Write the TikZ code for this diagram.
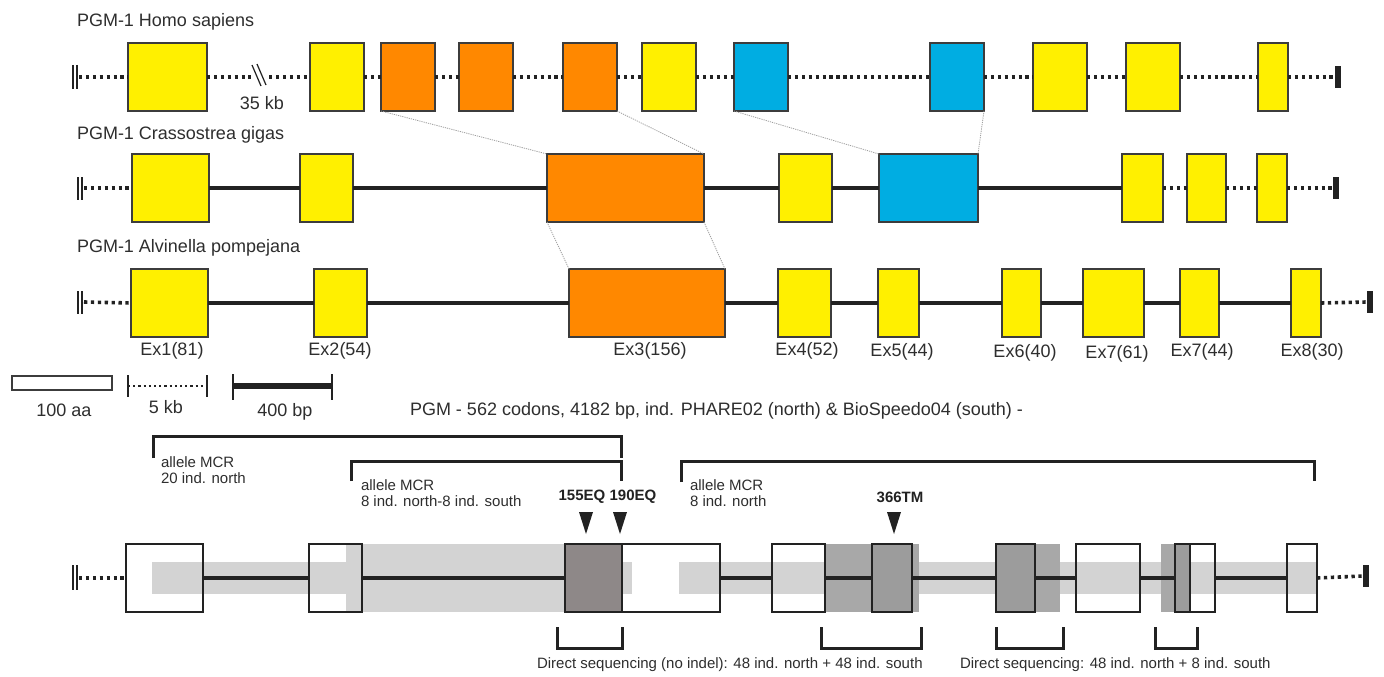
\documentclass[tikz,border=0pt]{standalone}
\usepackage{fontspec}
\setmainfont{Liberation Sans}
\definecolor{yelc}{HTML}{FFF000}
\definecolor{orgc}{HTML}{FF8800}
\definecolor{bluc}{HTML}{00ADE2}
\definecolor{boxc}{HTML}{3C3C3C}
\definecolor{linec}{HTML}{222222}
\definecolor{txtc}{HTML}{2E2E2E}
\definecolor{bandc}{HTML}{D3D3D3}
\definecolor{tallc}{HTML}{A8A8A8}
\definecolor{gboxc}{HTML}{9C9C9C}
\definecolor{dboxc}{HTML}{8E8888}
\newcommand\mkbox[6]{% name, style, x1, x2, y1, y2
  \node[#2, minimum width={(#4-#3)*1pt}, minimum height={(#6-#5)*1pt}] (#1) at ({(#3+#4)/2},{(#5+#6)/2}) {};}
\tikzset{
  every node/.style={inner sep=0pt, outer sep=0pt},
  exon/.style={draw=boxc, line width=1.7pt},
  yel/.style={exon, fill=yelc},
  org/.style={exon, fill=orgc},
  blu/.style={exon, fill=bluc},
  wfill/.style={fill=white},
  gfill/.style={fill=gboxc, draw=linec, line width=1.7pt},
  dfill/.style={fill=dboxc, draw=linec, line width=1.7pt},
  bandfill/.style={fill=bandc},
  tallfill/.style={fill=tallc},
  endbar/.style={fill=linec, minimum width=6.5pt, minimum height=22pt},
  intron/.style={draw=linec, line width=3.4pt},
  dotl/.style={draw=linec, line width=3.6pt, dash pattern=on 3.3pt off 3.6pt},
  link/.style={draw=gray!75, line width=0.8pt, dash pattern=on 1.2pt off 1pt},
  bar/.style={draw=linec, line width=1.2pt},
  bracket/.style={draw=linec, line width=3pt},
  outline/.style={draw=linec, line width=1.7pt},
  txt/.style={text=txtc, font=\fontsize{18}{20}\selectfont},
  stxt/.style={text=txtc, font=\fontsize{15}{16.5}\selectfont, align=left},
  btxt/.style={text=linec, font=\bfseries\fontsize{15}{16}\selectfont},
}
\begin{document}
\begin{tikzpicture}[x=1pt,y=-1pt]
\useasboundingbox[fill=white] (0,0) rectangle (1384,677);

% ---------- titles ----------
\node[txt, anchor=west] (t1) at (77,22) {PGM-1 Homo sapiens};
\node[txt, anchor=west] (t2) at (77,135) {PGM-1 Crassostrea gigas};
\node[txt, anchor=west] (t3) at (77,248) {PGM-1 Alvinella pompejana};

% ---------- row 1 : Homo sapiens ----------
\mkbox{h1}{yel}{128}{207}{43}{111}
\mkbox{h2}{yel}{310}{364}{43}{111}
\mkbox{h3}{org}{381}{435}{43}{111}
\mkbox{h4}{org}{459}{513}{43}{111}
\mkbox{h5}{org}{563}{617}{43}{111}
\mkbox{h6}{yel}{642}{696}{43}{111}
\mkbox{h7}{blu}{734}{788}{43}{111}
\mkbox{h8}{blu}{930}{984}{43}{111}
\mkbox{h9}{yel}{1033}{1087}{43}{111}
\mkbox{h10}{yel}{1126}{1180}{43}{111}
\mkbox{h11}{yel}{1258}{1288}{43}{111}
\node[endbar] (e1) at (1338,77) {};
\coordinate (l1) at (79,77);
\draw[bar] (73,65) -- (73,89) (77,65) -- (77,89);
\draw[dotl] (l1) -- (h1.west);
\draw[dotl] (h1.east) -- (h2.west);
\draw[dotl] (h2.east) -- (h3.west);
\draw[dotl] (h3.east) -- (h4.west);
\draw[dotl] (h4.east) -- (h5.west);
\draw[dotl] (h5.east) -- (h6.west);
\draw[dotl] (h6.east) -- (h7.west);
\draw[dotl] (h7.east) -- (h8.west);
\draw[dotl] (h8.east) -- (h9.west);
\draw[dotl] (h9.east) -- (h10.west);
\draw[dotl] (h10.east) -- (h11.west);
\draw[dotl] (h11.east) -- (e1.west);
\fill[white] (251,71) rectangle (268,83);
\draw[linec, line width=1.2pt] (252,65) -- (261,86) (257,64) -- (266,85);
\node[txt] (kb35) at (262,103) {35 kb};

% ---------- row 2 : Crassostrea gigas ----------
\mkbox{c1}{yel}{132}{209}{154}{222}
\mkbox{c2}{yel}{300}{353}{154}{222}
\mkbox{c3}{org}{547}{704}{154}{222}
\mkbox{c4}{yel}{779}{832}{154}{222}
\mkbox{c5}{blu}{879}{978}{154}{222}
\mkbox{c6}{yel}{1122}{1163}{154}{222}
\mkbox{c7}{yel}{1187}{1226}{154}{222}
\mkbox{c8}{yel}{1257}{1287}{154}{222}
\node[endbar] (e2) at (1336,188) {};
\coordinate (l2) at (84,188);
\draw[bar] (78,177) -- (78,200) (82,177) -- (82,200);
\draw[dotl] (l2) -- (c1.west);
\draw[intron] (c1.east) -- (c2.west);
\draw[intron] (c2.east) -- (c3.west);
\draw[intron] (c3.east) -- (c4.west);
\draw[intron] (c4.east) -- (c5.west);
\draw[intron] (c5.east) -- (c6.west);
\draw[dotl] (c6.east) -- (c7.west);
\draw[dotl] (c7.east) -- (c8.west);
\draw[dotl] (c8.east) -- (e2.west);

% ---------- row 3 : Alvinella pompejana ----------
\mkbox{a1}{yel}{131}{208}{269}{337}
\mkbox{a2}{yel}{314}{367}{269}{337}
\mkbox{a3}{org}{569}{725}{269}{337}
\mkbox{a4}{yel}{778}{831}{269}{337}
\mkbox{a5}{yel}{878}{919}{269}{337}
\mkbox{a6}{yel}{1002}{1041}{269}{337}
\mkbox{a7}{yel}{1083}{1144}{269}{337}
\mkbox{a8}{yel}{1180}{1219}{269}{337}
\mkbox{a9}{yel}{1291}{1321}{269}{337}
\node[endbar] (e3) at (1370,302) {};
\coordinate (l3) at (84,302);
\draw[bar] (78,291) -- (78,314) (82,291) -- (82,314);
\draw[dotl] (l3) -- (a1.west);
\draw[intron] (a1.east) -- (a2.west);
\draw[intron] (a2.east) -- (a3.west);
\draw[intron] (a3.east) -- (a4.west);
\draw[intron] (a4.east) -- (a5.west);
\draw[intron] (a5.east) -- (a6.west);
\draw[intron] (a6.east) -- (a7.west);
\draw[intron] (a7.east) -- (a8.west);
\draw[intron] (a8.east) -- (a9.west);
\draw[dotl] (a9.east) -- (e3.west);

\node[txt] (x1) at (172,351) {Ex1(81)};
\node[txt] (x2) at (340,351) {Ex2(54)};
\node[txt] (x3) at (650,351) {Ex3(156)};
\node[txt] (x4) at (807,351) {Ex4(52)};
\node[txt] (x5) at (902,352) {Ex5(44)};
\node[txt] (x6) at (1025,353) {Ex6(40)};
\node[txt] (x7) at (1117,354) {Ex7(61)};
\node[txt] (x8) at (1202,352) {Ex7(44)};
\node[txt] (x9) at (1312,352) {Ex8(30)};

% ---------- homology links ----------
\draw[link] (h3.south west) -- (c3.north west);
\draw[link] (h5.south east) -- (c3.north east);
\draw[link] (h7.south west) -- (c5.north west);
\draw[link] (h8.south east) -- (c5.north east);
\draw[link] (c3.south west) -- (a3.north west);
\draw[link] (c3.south east) -- (a3.north east);

% ---------- scale bars ----------
\node[draw=boxc, line width=1.2pt, minimum width=100pt, minimum height=14pt] (sb1) at (62,383) {};
\node[txt] (sb1t) at (64,410) {100 aa};
\coordinate (s2a) at (128,386);
\coordinate (s2b) at (207,386);
\draw[bar] (128,375) -- (128,397) (207,375) -- (207,397);
\draw[dotl, line width=2.4pt, dash pattern=on 2.2pt off 3pt] (s2a) -- (s2b);
\node[txt] (sb2t) at (166,407) {5 kb};
\coordinate (s3a) at (233,386);
\coordinate (s3b) at (332,386);
\draw[bar, line width=1.5pt] (233,374) -- (233,400) (332,374) -- (332,400);
\draw[draw=linec, line width=5.5pt] (s3a) -- (s3b);
\node[txt] (sb3t) at (285,412) {400 bp};

% ---------- bottom: PGM gene ----------
\node[txt, anchor=west] (pgm) at (410,411) {PGM - 562 codons, 4182 bp, ind. PHARE02 (north) \& BioSpeedo04 (south) -};

% white exon fills
\mkbox{b1}{wfill}{126}{203}{544}{612}
\mkbox{b2}{wfill}{309}{362}{544}{612}
\mkbox{b3}{wfill}{622}{720}{544}{612}
\mkbox{b4}{wfill}{772}{825}{544}{612}
\mkbox{b7}{wfill}{1076}{1140}{544}{612}
\mkbox{b9}{wfill}{1190}{1215}{544}{612}
\mkbox{b10}{wfill}{1287}{1317}{544}{612}
% gray regions
\mkbox{band1}{bandfill}{152}{632}{562}{594}
\mkbox{band2}{bandfill}{679}{1317}{562}{594}
\mkbox{tall1}{bandfill}{346}{565}{544}{612}
\mkbox{tall2}{tallfill}{825}{919}{544}{612}
\mkbox{tall3}{tallfill}{996}{1060}{544}{612}
\mkbox{tall4}{tallfill}{1161}{1175}{544}{612}
% outlines of white exons
\foreach \b in {b1,b2,b3,b4,b7,b9,b10}
  \draw[outline] (\b.north west) rectangle (\b.south east);
% grey exons
\mkbox{bd}{dfill}{565}{622}{544}{612}
\mkbox{b5}{gfill}{872}{912}{544}{612}
\mkbox{b6}{gfill}{996}{1035}{544}{612}
\mkbox{b8}{gfill}{1175}{1190}{544}{612}
\node[endbar] (e4) at (1366,576) {};
\coordinate (l4) at (79,578);
\draw[bar, line width=1.3pt] (73,565) -- (73,590) (77,565) -- (77,590);
\draw[dotl] (l4) -- (b1.west);
\draw[intron] (b1.east) -- (b2.west);
\draw[intron] (b2.east) -- (bd.west);
\draw[intron] (b3.east) -- (b4.west);
\draw[intron] (b4.east) -- (b5.west);
\draw[intron] (b5.east) -- (b6.west);
\draw[intron] (b6.east) -- (b7.west);
\draw[intron] (b7.east) -- (b8.west);
\draw[intron] (b9.east) -- (b10.west);
\draw[dotl] (b10.east) -- (e4.west);

% top brackets
\draw[bracket] (153,458) -- (153,436) -- (621,436) -- (621,458);
\draw[bracket] (351,481) -- (351,461) -- (621,461) -- (621,481);
\draw[bracket] (681,482) -- (681,461) -- (1314,461) -- (1314,481);
\node[stxt, anchor=west] (m1) at (161,470) {allele MCR\\20 ind. north};
\node[stxt, anchor=west] (m2) at (361,493) {allele MCR\\8 ind. north-8 ind. south};
\node[stxt, anchor=west] (m3) at (690,493) {allele MCR\\8 ind. north};

% mutations
\node[btxt] (q1) at (582,497) {155EQ};
\node[btxt] (q2) at (633,497) {190EQ};
\node[btxt] (q3) at (900,497) {366TM};
\fill[linec] (579,512) -- (593,512) -- (586,534) -- cycle;
\fill[linec] (613,512) -- (627,512) -- (620,534) -- cycle;
\fill[linec] (887,512) -- (901,512) -- (894,534) -- cycle;

% bottom brackets
\draw[bracket] (557,627) -- (557,648) -- (622,648) -- (622,627);
\draw[bracket] (821,627) -- (821,648) -- (921,648) -- (921,627);
\draw[bracket] (996,627) -- (996,648) -- (1063,648) -- (1063,627);
\draw[bracket] (1155,627) -- (1155,648) -- (1197,648) -- (1197,627);
\node[stxt, anchor=west] (d1) at (537,665) {Direct sequencing (no indel): 48 ind. north + 48 ind. south};
\node[stxt, anchor=west] (d2) at (960,665) {Direct sequencing: 48 ind. north + 8 ind. south};
\end{tikzpicture}
\end{document}
